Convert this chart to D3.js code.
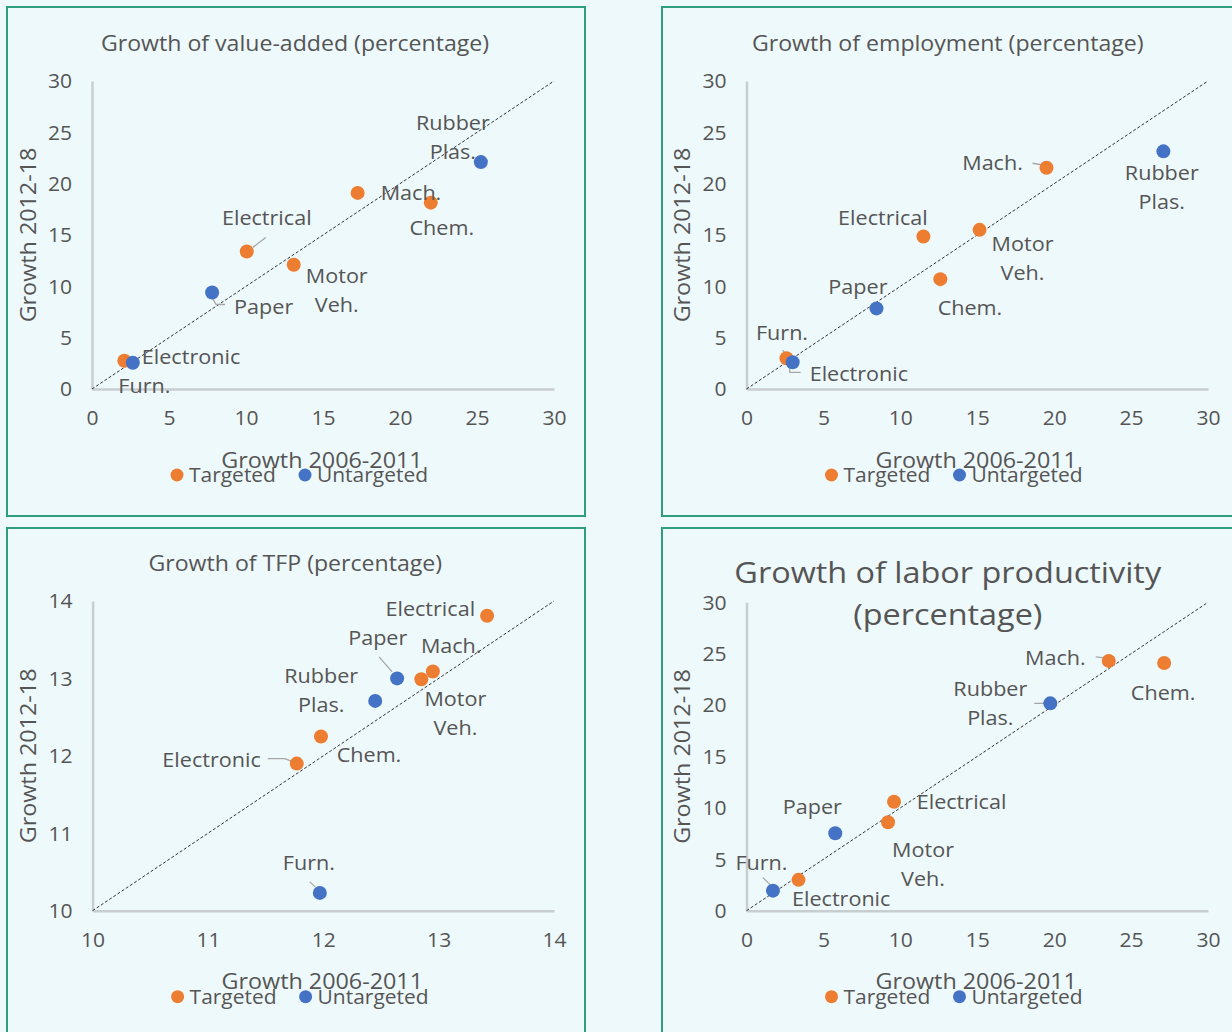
<!DOCTYPE html>
<html>
<head>
<meta charset="utf-8">
<script src="https://cdn.jsdelivr.net/npm/d3@7"></script>
<style>
  html, body { margin: 0; padding: 0; background: #eef9fb; }
  svg { display: block; }
  text { font-family: "Open Sans", "Noto Sans", sans-serif; fill: #555555; }
</style>
</head>
<body>
<svg id="chart" width="1232" height="1032"></svg>
<script>
// ---------- DATA ----------
const sectors = ["Furn.", "Electronic", "Paper", "Electrical", "Motor Veh.", "Mach.", "Chem.", "Rubber Plas."];
const legendLabels = ["Targeted", "Untargeted"];
const xAxisTitle = "Growth 2006-2011";
const yAxisTitle = "Growth 2012-18";

// Growth of value-added
const vaTitle = ["Growth of value-added (percentage)"];
const vaX = [2.1, 2.65, 7.8, 10.05, 13.1, 17.25, 22.0, 25.25];
const vaY = [2.75, 2.55, 9.4, 13.4, 12.1, 19.1, 18.15, 22.1];
const vaGroup = ["Targeted", "Untargeted", "Untargeted", "Targeted", "Targeted", "Targeted", "Targeted", "Untargeted"];
const vaTicks = [0, 5, 10, 15, 20, 25, 30];

// Growth of employment
const empTitle = ["Growth of employment (percentage)"];
const empX = [2.6, 3.0, 8.45, 11.5, 15.15, 19.5, 12.6, 27.1];
const empY = [3.0, 2.6, 7.85, 14.85, 15.5, 21.55, 10.7, 23.15];
const empGroup = ["Targeted", "Untargeted", "Untargeted", "Targeted", "Targeted", "Targeted", "Targeted", "Untargeted"];
const empTicks = [0, 5, 10, 15, 20, 25, 30];

// Growth of TFP
const tfpTitle = ["Growth of TFP (percentage)"];
const tfpX = [11.97, 11.77, 12.64, 13.42, 12.85, 12.95, 11.98, 12.45];
const tfpY = [10.23, 11.9, 13.0, 13.81, 12.99, 13.09, 12.25, 12.71];
const tfpGroup = ["Untargeted", "Targeted", "Untargeted", "Targeted", "Targeted", "Targeted", "Targeted", "Untargeted"];
const tfpTicks = [10, 11, 12, 13, 14];

// Growth of labor productivity
const lpTitle = ["Growth of labor productivity", "(percentage)"];
const lpX = [1.72, 3.38, 5.77, 9.59, 9.2, 23.55, 27.15, 19.75];
const lpY = [1.95, 3.0, 7.53, 10.6, 8.6, 24.3, 24.1, 20.17];
const lpGroup = ["Untargeted", "Targeted", "Untargeted", "Targeted", "Targeted", "Targeted", "Targeted", "Untargeted"];
const lpTicks = [0, 5, 10, 15, 20, 25, 30];

// ---------- STYLE / LAYOUT ----------
const SX = 1.08; // horizontal stretch of all text (the original is a stretched Calibri)
const color = d3.scaleOrdinal().domain(legendLabels).range(["#ED7D31", "#4472C4"]);
const svg = d3.select("#chart");
svg.append("rect").attr("width", 1232).attr("height", 1032).attr("fill", "#eef9fb");

function addText(g, x, y, lines, size, anchor, gap) {
  const t = g.append("text")
    .attr("transform", `translate(${x},${y}) scale(${SX},1)`)
    .attr("text-anchor", anchor || "middle").attr("font-size", size);
  lines.forEach((w, k) => {
    t.append("tspan").attr("x", 0).attr("y", k * (gap || 29)).attr("dy", "0.35em").text(w);
  });
  return t;
}

// label placement per panel: [dx, dy, anchor, leader polyline (relative to point) or null]
const vaLabelPos = [
  [-6, 25, "start", null],
  [9, -6, "start", null],
  [22, 14.5, "start", [[0, 5], [4, 12], [13, 12]]],
  [20, -33, "middle", [[19, -14], [6, -4]]],
  [43, 11, "middle", null],
  [23, 0, "start", null],
  [11, 25, "middle", null],
  [-28, -39, "middle", null]
];
const empLabelPos = [
  [-4.5, -25, "middle", [[-4, -8], [-1, -5]]],
  [17, 12, "start", [[-3, 4], [-3, 10], [8, 10]]],
  [-18.6, -21, "middle", null],
  [-40.5, -18.5, "middle", null],
  [43, 14, "middle", null],
  [-23.6, -4.7, "end", [[-14, -4.5], [-5, -3]]],
  [29.6, 29, "middle", null],
  [-1.6, 22, "middle", null]
];
const tfpLabelPos = [
  [-11, -30, "middle", [[-10, -11], [-4.6, -6]]],
  [-36, -3.4, "end", [[-29, -5], [-12, -5], [-4, -2]]],
  [-19.4, -40, "middle", [[-18, -21.6], [-5, -6.6]]],
  [-12, -7, "end", null],
  [34, 20, "middle", null],
  [-12, -25, "start", null],
  [48, 18, "middle", null],
  [-54, -25, "middle", null]
];
const lpLabelPos = [
  [-11.5, -28, "middle", [[-10, -13], [-3, -6]]],
  [-6.5, 19, "start", null],
  [-23, -26.6, "middle", null],
  [22.7, 0.6, "start", null],
  [35, 27.7, "middle", null],
  [-23, -3.3, "end", [[-13, -4], [-5, -3]]],
  [-1, 30, "middle", null],
  [-60, -14.4, "middle", [[-16, 0], [-6, 0]]]
];

const panels = [
  { box: [7, 7, 578, 509], plot: [92, 554, 81, 389], title: vaTitle, titleSize: 21.4, titleY: 44, titleDx: -28,
    xs: vaX, ys: vaY, groups: vaGroup, ticks: vaTicks, labelPos: vaLabelPos },
  { box: [662, 7, 600, 509], plot: [746.5, 1208, 81, 389], title: empTitle, titleSize: 21.4, titleY: 44, titleDx: -29.5,
    xs: empX, ys: empY, groups: empGroup, ticks: empTicks, labelPos: empLabelPos },
  { box: [7, 528, 578, 520], plot: [92.6, 554, 601, 910.7], title: tfpTitle, titleSize: 21.4, titleY: 564, titleDx: -28,
    xs: tfpX, ys: tfpY, groups: tfpGroup, ticks: tfpTicks, labelPos: tfpLabelPos },
  { box: [662, 528, 600, 520], plot: [746.5, 1208, 602.3, 910.7], title: lpTitle, titleSize: 30, titleY: 572, titleDx: -29.5,
    xs: lpX, ys: lpY, groups: lpGroup, ticks: lpTicks, labelPos: lpLabelPos, titleLineGap: 43 }
];

panels.forEach(p => {
  const g = svg.append("g");
  // panel frame
  g.append("rect")
    .attr("x", p.box[0]).attr("y", p.box[1]).attr("width", p.box[2]).attr("height", p.box[3])
    .attr("fill", "#eef9fb").attr("stroke", "#2f9e80").attr("stroke-width", 2);

  const [L, R, T, B] = p.plot;
  const dom = d3.extent(p.ticks);
  const x = d3.scaleLinear().domain(dom).range([L, R]);
  const y = d3.scaleLinear().domain(dom).range([B, T]);

  // axes (no tick marks)
  const fmt = d3.format("d");
  const xAxis = d3.axisBottom(x).tickValues(p.ticks).tickFormat(fmt).tickSize(0).tickPadding(22);
  const yAxis = d3.axisLeft(y).tickValues(p.ticks).tickFormat(fmt).tickSize(0).tickPadding(21);
  const gx = g.append("g").attr("transform", `translate(0,${B})`).call(xAxis);
  const gy = g.append("g").attr("transform", `translate(${L},0)`).call(yAxis);
  [gx, gy].forEach(a => {
    a.select(".domain").attr("stroke", "#c8cdd0").attr("stroke-width", 2.5);
    a.selectAll("text").attr("font-size", 19.5).attr("fill", "#555555")
      .style("font-family", '"Open Sans", sans-serif')
      .attr("transform", `scale(${SX},1)`);
  });
  gy.selectAll("text").attr("x", -20 / SX).attr("dy", "0.35em");

  // diagonal 45° line
  g.append("line")
    .attr("x1", x(dom[0])).attr("y1", y(dom[0])).attr("x2", x(dom[1])).attr("y2", y(dom[1]))
    .attr("stroke", "#333").attr("stroke-width", 1).attr("stroke-dasharray", "3,2");

  // title
  addText(g, (L + R) / 2 + p.titleDx, p.titleY, p.title, p.titleSize, "middle", p.titleLineGap || 0);

  // axis titles
  g.append("text").attr("transform", `translate(${L - 64},${(T + B) / 2}) rotate(-90) scale(${SX},1)`)
    .attr("dy", "0.35em").attr("text-anchor", "middle").attr("font-size", 21.6).text(yAxisTitle);
  addText(g, (L + R) / 2 - 1, B + 71, [xAxisTitle], 21.6, "middle");

  // legend
  const lg = g.append("g").attr("transform", `translate(${L},${B + 86})`);
  legendLabels.forEach((lab, i) => {
    const ox = i === 0 ? 85 : 213;
    lg.append("circle").attr("cx", ox).attr("cy", 0).attr("r", 6.5).attr("fill", color(lab));
    addText(lg, ox + 12, 0, [lab], 19.4, "start");
  });

  // leader lines
  sectors.forEach((s, i) => {
    const lp = p.labelPos[i];
    if (lp[3]) {
      const px = x(p.xs[i]), py = y(p.ys[i]);
      g.append("path")
        .attr("d", d3.line()(lp[3].map(([a, b]) => [px + a, py + b])))
        .attr("fill", "none").attr("stroke", "#a6a6a6").attr("stroke-width", 1.3);
    }
  });

  // points
  g.selectAll("circle.pt").data(sectors).enter().append("circle")
    .attr("class", "pt")
    .attr("cx", (d, i) => x(p.xs[i])).attr("cy", (d, i) => y(p.ys[i]))
    .attr("r", 7).attr("fill", (d, i) => color(p.groups[i]));

  // data labels
  sectors.forEach((s, i) => {
    const lp = p.labelPos[i];
    addText(g, x(p.xs[i]) + lp[0], y(p.ys[i]) + lp[1], s.split(" "), 20, lp[2], 29);
  });
});
</script>
</body>
</html>
